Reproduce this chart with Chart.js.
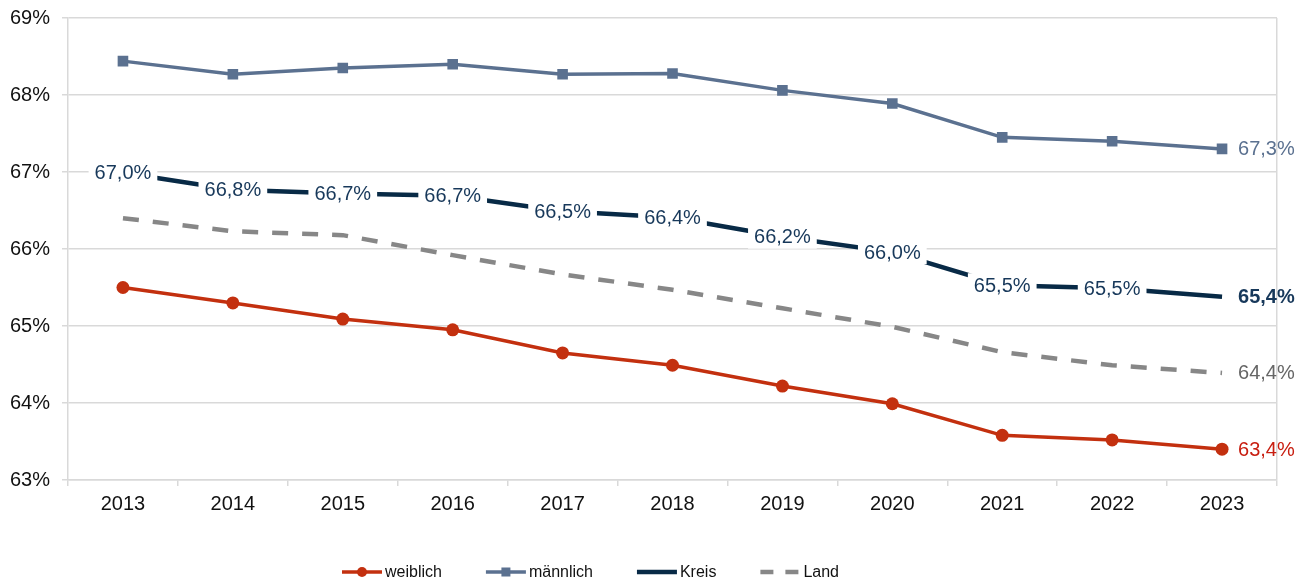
<!DOCTYPE html>
<html lang="de">
<head>
<meta charset="utf-8">
<title>Anteil nach Geschlecht</title>
<script src="https://cdn.jsdelivr.net/npm/chart.js@4.4.1/dist/chart.umd.min.js"></script>
<style>
    html, body { margin: 0; padding: 0; background: #ffffff; }
    #chart-box { position: relative; width: 1309px; height: 585px; }
</style>
</head>
<body>
<div id="chart-box">
    <canvas id="myChart" width="1309" height="585"></canvas>
</div>
<script>
// Values
const years = ['2013', '2014', '2015', '2016', '2017', '2018', '2019', '2020', '2021', '2022', '2023'];
const weiblich = [65.50, 65.30, 65.09, 64.95, 64.65, 64.49, 64.22, 63.99, 63.58, 63.52, 63.40];
const maennlich = [68.44, 68.27, 68.35, 68.40, 68.27, 68.28, 68.06, 67.89, 67.45, 67.40, 67.30];
const kreis = [66.99, 66.77, 66.72, 66.69, 66.49, 66.41, 66.16, 65.96, 65.53, 65.49, 65.38];
const land = [66.40, 66.23, 66.18, 65.92, 65.67, 65.47, 65.23, 64.99, 64.66, 64.49, 64.39];
const yTicks = [63, 64, 65, 66, 67, 68, 69];

const FONT = '"Liberation Sans", Arial, sans-serif';
const GRID = '#d9d9d9';

function pct(v) {
    return v.toFixed(1).replace('.', ',') + '%';
}

// Labels on the points: Kreis gets all of them, the others only the last one
const pointLabels = {
    id: 'pointLabels',
    afterDatasetsDraw(chart) {
        const ctx = chart.ctx;
        chart.data.datasets.forEach((ds, i) => {
            const meta = chart.getDatasetMeta(i);
            meta.data.forEach((pt, j) => {
                const last = j === meta.data.length - 1;
                if ( !last && !ds.labelAll ) return;
                const text = pct(ds.data[j]);
                ctx.save();
                ctx.font = (last && ds.lastBold ? 'bold ' : '') + '20px ' + FONT;
                ctx.textBaseline = 'middle';
                if ( last ) {
                    ctx.textAlign = 'left';
                    ctx.fillStyle = ds.labelColor;
                    ctx.fillText(text, pt.x + 16, pt.y + 1);
                } else {
                    const w = ctx.measureText(text).width;
                    ctx.fillStyle = '#ffffff';
                    ctx.fillRect(pt.x - w / 2 - 6, pt.y - 12, w + 12, 24);
                    ctx.textAlign = 'center';
                    ctx.fillStyle = ds.labelColor;
                    ctx.fillText(text, pt.x, pt.y + 1);
                }
                ctx.restore();
            });
        });
    }
};

// Legend at the bottom, line sample with marker, like the original
const bottomLegend = {
    id: 'bottomLegend',
    afterDraw(chart) {
        const ctx = chart.ctx;
        const y = 572;
        let x = 342;
        ctx.save();
        ctx.font = '16px ' + FONT;
        chart.data.datasets.forEach(ds => {
            ctx.strokeStyle = ds.borderColor;
            ctx.lineWidth = ds.borderWidth;
            ctx.setLineDash(ds.borderDash ? [13, 12] : []);
            ctx.beginPath();
            ctx.moveTo(x, y);
            ctx.lineTo(x + 40, y);
            ctx.stroke();
            ctx.setLineDash([]);
            ctx.fillStyle = ds.borderColor;
            if ( ds.pointStyle === 'circle' && ds.pointRadius > 0 ) {
                ctx.beginPath();
                ctx.arc(x + 20, y, 5, 0, Math.PI * 2);
                ctx.fill();
            } else if ( ds.pointStyle === 'rect' && ds.pointRadius > 0 ) {
                ctx.fillRect(x + 15.5, y - 4.5, 9, 9);
            }
            ctx.fillStyle = '#111111';
            ctx.textAlign = 'left';
            ctx.textBaseline = 'middle';
            ctx.fillText(ds.label, x + 43, y + 1);
            x += 43 + ctx.measureText(ds.label).width + 44;
        });
        ctx.restore();
    }
};

const data = {
    labels: years,
    datasets: [
        {
            label: 'weiblich',
            data: weiblich,
            borderColor: '#c3300f',
            backgroundColor: '#c3300f',
            borderWidth: 3.5,
            pointStyle: 'circle',
            pointRadius: 6.5,
            pointBorderWidth: 0,
            labelColor: '#c81e10'
        },
        {
            label: 'männlich',
            data: maennlich,
            borderColor: '#5b7190',
            backgroundColor: '#5b7190',
            borderWidth: 3.5,
            pointStyle: 'rect',
            pointRadius: 7.5,
            pointBorderWidth: 0,
            labelColor: '#5b7190'
        },
        {
            label: 'Kreis',
            data: kreis,
            borderColor: '#082a46',
            backgroundColor: '#082a46',
            borderWidth: 4.5,
            pointStyle: 'circle',
            pointRadius: 0,
            labelAll: true,
            lastBold: true,
            labelColor: '#17385a'
        },
        {
            label: 'Land',
            data: land,
            borderColor: '#878787',
            backgroundColor: '#878787',
            borderWidth: 4.5,
            borderDash: [16, 14],
            pointStyle: 'circle',
            pointRadius: 0,
            labelColor: '#666666'
        }
    ]
};

const config = {
    type: 'line',
    data: data,
    options: {
        responsive: false,
        animation: false,
        layout: {
            padding: { top: 18, right: 32, bottom: 63, left: 0 }
        },
        elements: {
            line: { tension: 0, fill: false }
        },
        plugins: {
            legend: { display: false },
            tooltip: { enabled: false },
            title: { display: false }
        },
        scales: {
            x: {
                offset: true,
                grid: {
                    offset: true,
                    drawOnChartArea: true,
                    // only the right edge line is visible inside the plot
                    color: (c) => c.type === 'tick' ? 'rgba(0,0,0,0)' : GRID,
                    tickColor: GRID,
                    tickLength: 6,
                    lineWidth: 1.5
                },
                border: { display: true, color: GRID, width: 1.5 },
                ticks: {
                    color: '#111111',
                    font: { family: FONT, size: 20 },
                    padding: 6,
                    maxRotation: 0
                }
            },
            y: {
                min: 63,
                max: 69,
                // fixed axis width, top label may stick out over the padding
                afterFit: (scale) => {
                    scale.width = 68;
                    scale.paddingTop = 0;
                },
                afterBuildTicks: (scale) => {
                    scale.ticks = yTicks.map(v => ({ value: v }));
                },
                grid: {
                    color: GRID,
                    tickColor: GRID,
                    tickLength: 6,
                    lineWidth: 1.5
                },
                border: { display: true, color: GRID, width: 1.5 },
                ticks: {
                    color: '#111111',
                    font: { family: FONT, size: 20 },
                    padding: 12,
                    callback: (v) => v + '%'
                }
            }
        }
    },
    plugins: [pointLabels, bottomLegend]
};

const myChart = new Chart(
    document.getElementById('myChart'),
    config
);
</script>
</body>
</html>
